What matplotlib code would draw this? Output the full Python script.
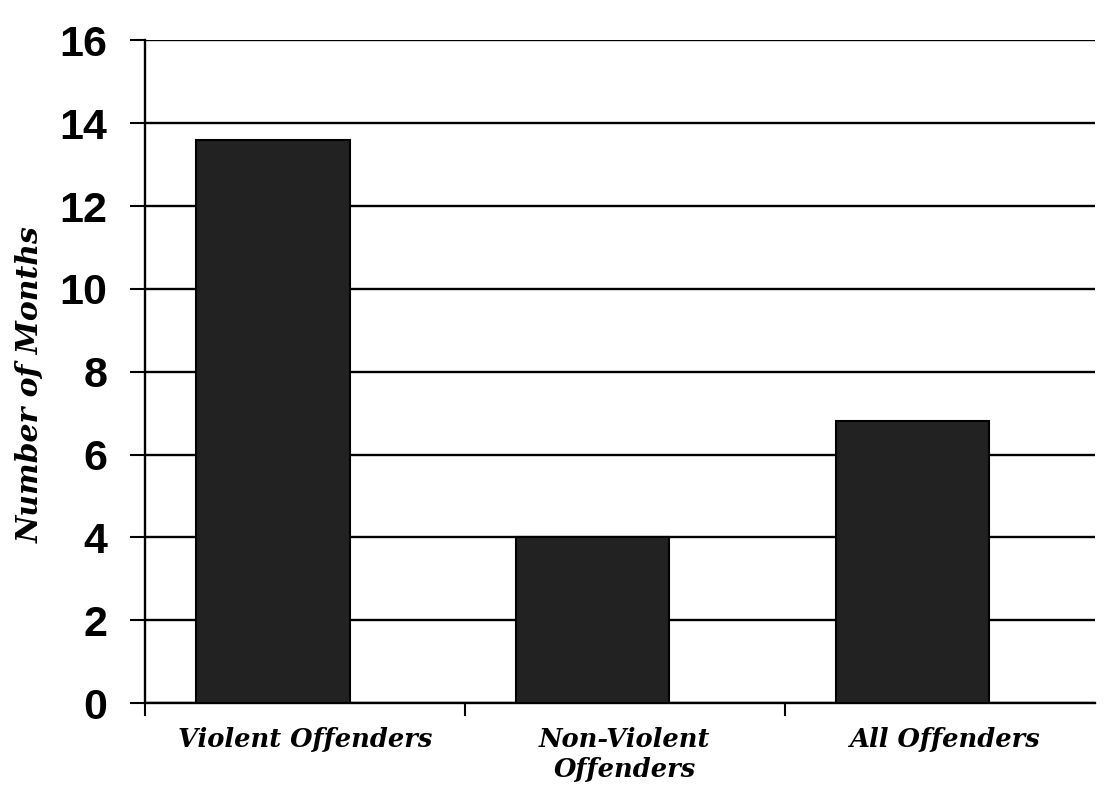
import matplotlib
matplotlib.use("Agg")
import matplotlib.pyplot as plt
import numpy as np

categories = ["Violent Offenders", "Non-Violent\nOffenders", "All Offenders"]
months = [13.6, 4.0, 6.8]
yticks = [0, 2, 4, 6, 8, 10, 12, 14, 16]

fig = plt.figure(figsize=(11.07, 7.91), dpi=100)
ax = fig.add_axes([0.131, 0.111, 0.858, 0.838])

x = np.arange(len(categories))
bar_x = x - 0.1
ax.bar(bar_x, months, width=0.48, color="#222222", edgecolor="black",
       linewidth=1.5, zorder=3)

ax.set_xlim(-0.5, 2.47)
ax.set_ylim(0, 16)
ax.set_yticks(yticks)
ax.set_yticklabels([str(v) for v in yticks], fontfamily="Liberation Sans",
                   fontweight="bold", fontsize=31)
ax.yaxis.grid(True, color="black", linewidth=1.7, zorder=1)
ax.set_axisbelow(True)

ax.set_xticks(x)
ax.set_xticklabels(categories, fontfamily="DejaVu Serif", fontweight="bold",
                   fontstyle="italic", fontsize=18.5, linespacing=1.25)
ax.set_xticks(x - 0.5, minor=True)
ax.tick_params(axis="x", which="major", length=0, pad=17)
ax.tick_params(axis="x", which="minor", length=9, width=1.5, direction="out")
ax.tick_params(axis="y", which="major", length=11, width=1.5, direction="out", pad=16)

for s in ["top", "right"]:
    ax.spines[s].set_visible(False)
for s in ["left", "bottom"]:
    ax.spines[s].set_linewidth(1.7)
    ax.spines[s].set_color("black")

ax.set_ylabel("Number of Months", fontfamily="DejaVu Serif", fontweight="bold",
              fontstyle="italic", fontsize=21.5)
ax.yaxis.set_label_coords(-0.106, 0.48)

fig.savefig("out.png", dpi=100, facecolor="white")
